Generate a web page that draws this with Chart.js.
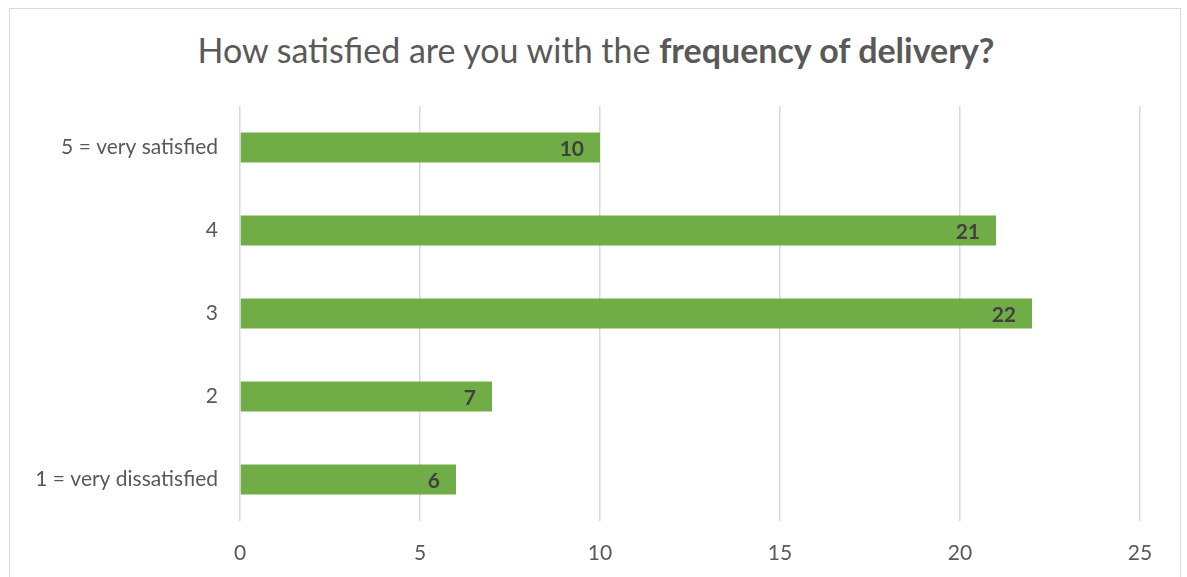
<!DOCTYPE html>
<html>
<head>
<meta charset="utf-8">
<script src="https://cdn.jsdelivr.net/npm/chart.js@4"></script>
<style>
  html, body { margin:0; padding:0; background:#fff; }
  #wrap { position:relative; width:1187px; height:577px; overflow:hidden; }
  #frame { position:absolute; left:9px; top:8px; width:1172px; height:600px;
           border:1.5px solid #d9d9d9; box-sizing:border-box; }
  #title { position:absolute; left:0; top:30px; width:1192px; text-align:center;
           font-family:Lato, sans-serif; font-size:34px; font-weight:400; color:#595959;
           margin:0; line-height:40px; }
  #title b { font-weight:700; }
  canvas { position:absolute; left:0; top:0; }
</style>
</head>
<body>
<div id="wrap">
  <div id="frame"></div>
  <h1 id="title">How satisfied are you with the <b>frequency of delivery?</b></h1>
  <canvas id="chart" width="1187" height="577"></canvas>
</div>
<script>
const categories = ['5 = very satisfied', '4', '3', '2', '1 = very dissatisfied'];
const counts     = [10, 21, 22, 7, 6];
const xTicks     = [0, 5, 10, 15, 20, 25];

const FONT   = 'Lato, sans-serif';
const GREEN  = '#70ad47';
const GRID   = '#d9d9d9';
const TXT    = '#595959';

// value labels drawn just inside the end of each bar
const barValues = {
  id: 'barValues',
  afterDatasetsDraw(chart) {
    const ctx  = chart.ctx;
    const meta = chart.getDatasetMeta(0);
    ctx.save();
    ctx.font = 'bold 21px ' + FONT;
    ctx.fillStyle = '#404040';
    ctx.textAlign = 'right';
    ctx.textBaseline = 'middle';
    meta.data.forEach((bar, i) => {
      ctx.fillText(String(counts[i]), bar.x - 16, bar.y + 2);
    });
    ctx.restore();
  }
};

new Chart(document.getElementById('chart'), {
  type: 'bar',
  data: {
    labels: categories,
    datasets: [{
      data: counts,
      backgroundColor: GREEN,
      borderWidth: 0,
      categoryPercentage: 1,
      barPercentage: 0.36,
    }]
  },
  options: {
    indexAxis: 'y',
    responsive: false,
    animation: false,
    layout: { padding: { left: 9, right: 47, top: 106, bottom: 0 } },
    plugins: { legend: { display: false }, tooltip: { enabled: false } },
    scales: {
      x: {
        min: 0, max: 25,
        afterBuildTicks: s => { s.ticks = xTicks.map(v => ({ value: v })); },
        afterFit: s => { s.height = 56; },
        grid: { color: GRID, lineWidth: 1.5, drawTicks: false },
        border: { display: false },
        ticks: { color: TXT, font: { family: FONT, size: 21 }, padding: 20 },
      },
      y: {
        afterFit: s => { s.width = 231; },
        grid: { display: false, drawTicks: false },
        border: { display: false },
        ticks: { color: TXT, font: { family: FONT, size: 21 }, padding: 22 },
      }
    }
  },
  plugins: [barValues]
});
</script>
</body>
</html>
